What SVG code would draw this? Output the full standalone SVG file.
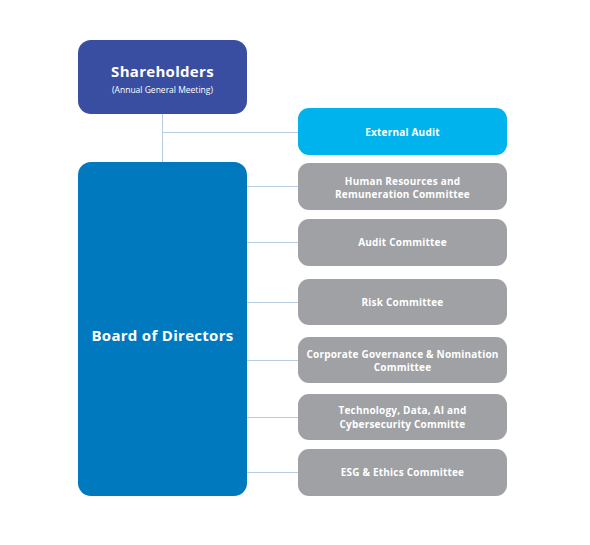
<svg xmlns="http://www.w3.org/2000/svg" width="590" height="545" viewBox="0 0 590 545">
<style>
.c{fill:#a0a1a5}
.t{font-family:"Open Sans",Roboto,Arial,sans-serif;font-weight:700;fill:#fff;text-anchor:middle}
.s{font-size:10px;letter-spacing:0.2px}
.ln{stroke:#b9cde0;stroke-width:1;fill:none}
</style>
<rect width="590" height="545" fill="#fff"/>
<g id="connectors">
<path class="ln" d="M162.5 114V162M162.5 132.5H298M247 186.5H298M247 242.5H298M247 302.5H298M247 360.5H298M247 417.5H298M247 472.5H298"/>
</g>
<g id="shareholders">
<rect x="78" y="40" width="169" height="74" rx="13" fill="#3a4ea1"/>
<text class="t" x="162.5" y="77" font-size="15" letter-spacing="0.3">Shareholders</text>
<text x="162.5" y="93" font-family="'Open Sans',Arial,sans-serif" font-size="8.5" fill="#fff" text-anchor="middle">(Annual General Meeting)</text>
</g>
<g id="board">
<rect x="78" y="162" width="169" height="334" rx="13" fill="#0079bf"/>
<text class="t" x="162.5" y="341" font-size="15" letter-spacing="0.3">Board of Directors</text>
</g>
<g id="external-audit">
<rect x="298" y="108" width="209" height="47" rx="11" fill="#00b3ec"/>
<text class="t s" x="402.5" y="135.5">External Audit</text>
</g>
<g id="hr">
<rect class="c" x="298" y="163" width="209" height="47" rx="11"/>
<text class="t s" x="402.5" y="184.5">Human Resources and</text>
<text class="t s" x="402.5" y="197.5">Remuneration Committee</text>
</g>
<g id="audit">
<rect class="c" x="298" y="219" width="209" height="47" rx="11"/>
<text class="t s" x="402.5" y="246">Audit Committee</text>
</g>
<g id="risk">
<rect class="c" x="298" y="279" width="209" height="46" rx="11"/>
<text class="t s" x="402.5" y="305.5">Risk Committee</text>
</g>
<g id="corpgov">
<rect class="c" x="298" y="337" width="209" height="46" rx="11"/>
<text class="t s" x="402.5" y="358">Corporate Governance &amp; Nomination</text>
<text class="t s" x="402.5" y="370.5">Committee</text>
</g>
<g id="tech">
<rect class="c" x="298" y="394" width="209" height="46" rx="11"/>
<text class="t s" x="402.5" y="414">Technology, Data, AI and</text>
<text class="t s" x="402.5" y="427.5">Cybersecurity Committe</text>
</g>
<g id="esg">
<rect class="c" x="298" y="449" width="209" height="47" rx="11"/>
<text class="t s" x="402.5" y="476">ESG &amp; Ethics Committee</text>
</g>
</svg>
